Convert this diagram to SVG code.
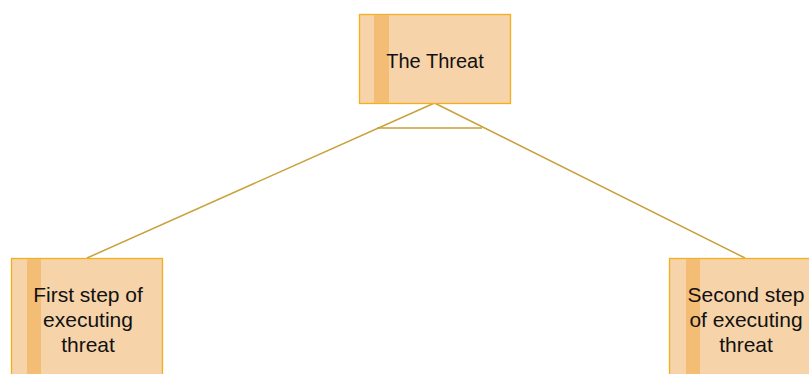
<svg xmlns="http://www.w3.org/2000/svg" width="809" height="374" viewBox="0 0 809 374">
  <style>
    .box { fill: #F6D3A9; stroke: #F2B01E; stroke-width: 1.3; }
    .stripe { fill: #F3BD76; }
    .label { font-family: "Liberation Sans", Arial, sans-serif; font-size: 20px; fill: #111; text-anchor: middle; }
    .step { font-size: 21px; }
    .link { stroke: #C9A13B; stroke-width: 1.5; fill: none; }
  </style>
  <rect x="0" y="0" width="809" height="374" fill="#ffffff"/>

  <!-- connectors: tree branch with a horizontal bar -->
  <g id="connectors">
    <line class="link" x1="434.5" y1="103" x2="87" y2="258"/>
    <line class="link" x1="434.5" y1="103" x2="745" y2="258"/>
    <line class="link" x1="377" y1="128" x2="482" y2="128"/>
  </g>

  <g id="node-threat">
    <rect class="box" x="359.5" y="14.5" width="151" height="89"/>
    <rect class="stripe" x="374" y="15.2" width="15" height="87.6"/>
    <text class="label" x="435" y="68">The Threat</text>
  </g>

  <g id="node-first-step">
    <rect class="box" x="11.5" y="258.5" width="151" height="125"/>
    <rect class="stripe" x="27" y="259.2" width="14" height="124"/>
    <text class="label step" x="88" y="302">First step of</text>
    <text class="label step" x="88" y="327">executing</text>
    <text class="label step" x="88" y="352">threat</text>
  </g>

  <g id="node-second-step">
    <rect class="box" x="669.5" y="258.5" width="151" height="125"/>
    <rect class="stripe" x="686" y="259.2" width="14" height="124"/>
    <text class="label step" x="746" y="302">Second step</text>
    <text class="label step" x="746" y="327">of executing</text>
    <text class="label step" x="746" y="352">threat</text>
  </g>
</svg>
